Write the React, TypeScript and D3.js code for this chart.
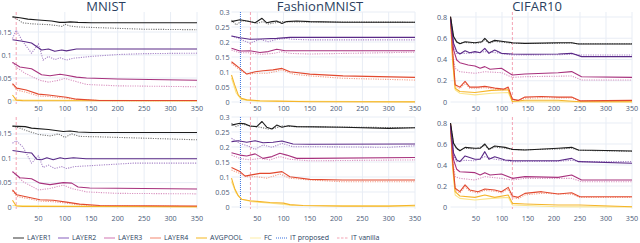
import React from 'react';
import * as d3 from 'd3';

type Pt = [number, number];

// ---------- tick values ----------
const xTicks = [50, 100, 150, 200, 250, 300, 350];
const mnistYTicks = [0, 0.05, 0.1, 0.15];
const fashionYTicks = [0, 0.05, 0.1, 0.15, 0.2, 0.25, 0.3];
const cifarYTicks = [0, 0.2, 0.4, 0.6, 0.8];

// ---------- MNIST, top row ----------
const mnA_L1s: Pt[] = [[1,.183],[15,.181],[30,.178],[50,.176],[75,.174],[90,.171],[100,.171],[110,.172],[125,.171],[150,.170],[350,.170]];
const mnA_L1d: Pt[] = [[1,.183],[10,.178],[20,.170],[35,.168],[50,.167],[70,.166],[85,.164],[95,.162],[100,.167],[110,.163],[125,.161],[150,.160],[200,.158],[250,.156],[350,.155]];
const mnA_L2s: Pt[] = [[1,.133],[20,.130],[37,.126],[56,.111],[69,.113],[81,.108],[94,.111],[103,.109],[122,.113],[150,.113],[350,.113]];
const mnA_L2d: Pt[] = [[1,.136],[8,.154],[20,.130],[37,.104],[50,.124],[59,.089],[69,.097],[81,.090],[91,.094],[103,.089],[116,.093],[150,.097],[200,.101],[250,.103],[350,.104]];
const mnA_L3s: Pt[] = [[1,.084],[15,.074],[37,.070],[56,.057],[72,.055],[91,.058],[103,.056],[122,.052],[141,.050],[200,.048],[350,.045]];
const mnA_L3d: Pt[] = [[1,.084],[10,.072],[25,.060],[53,.045],[69,.041],[88,.045],[100,.049],[113,.045],[141,.036],[200,.033],[350,.031]];
const mnA_L4s: Pt[] = [[1,.038],[9,.028],[27,.024],[50,.015],[69,.013],[84,.011],[103,.008],[122,.004],[166,.001],[350,.001]];
const mnA_L4d: Pt[] = [[1,.036],[9,.024],[27,.019],[50,.011],[69,.010],[84,.008],[103,.006],[122,.003],[166,.001],[350,.0005]];
const mnA_AVG: Pt[] = [[1,.013],[8,.002],[20,.0008],[350,.0005]];
const mnA_FC: Pt[] = [[1,.002],[350,.0002]];

// ---------- MNIST, bottom row ----------
const mnB_L1s: Pt[] = [[1,.166],[25,.165],[37,.162],[69,.159],[97,.155],[110,.156],[125,.154],[150,.153],[350,.153]];
const mnB_L1d: Pt[] = [[1,.166],[15,.162],[27,.157],[50,.149],[72,.146],[88,.150],[100,.143],[113,.150],[128,.145],[166,.144],[229,.142],[350,.138]];
const mnB_L2s: Pt[] = [[1,.116],[27,.112],[37,.111],[47,.098],[56,.097],[66,.101],[78,.097],[91,.101],[100,.099],[116,.101],[140,.099],[350,.099]];
const mnB_L2d: Pt[] = [[1,.131],[8,.136],[21,.123],[37,.090],[50,.105],[59,.081],[69,.086],[81,.079],[94,.083],[103,.079],[119,.083],[166,.086],[229,.090],[350,.090]];
const mnB_L3s: Pt[] = [[1,.0725],[15,.060],[37,.058],[53,.049],[72,.046],[97,.050],[113,.049],[125,.041],[147,.039],[350,.037]];
const mnB_L3d: Pt[] = [[1,.0725],[21,.052],[50,.035],[72,.038],[97,.045],[113,.038],[141,.031],[200,.028],[350,.027]];
const mnB_L4s: Pt[] = [[1,.035],[9,.025],[31,.020],[53,.015],[78,.014],[103,.010],[128,.006],[166,.003],[350,.002]];
const mnB_L4d: Pt[] = [[1,.033],[9,.022],[31,.017],[53,.012],[78,.011],[103,.008],[128,.004],[166,.002],[350,.001]];
const mnB_AVG: Pt[] = [[1,.014],[8,.002],[20,.001],[350,.0008]];
const mnB_FC: Pt[] = [[1,.003],[350,.0003]];

// ---------- FashionMNIST, top row ----------
const faA_L1s: Pt[] = [[1,.268],[17,.274],[30,.270],[46,.264],[59,.279],[68,.264],[78,.268],[87,.270],[97,.262],[106,.268],[125,.270],[150,.268],[213,.266],[350,.266]];
const faA_L1d: Pt[] = [[1,.273],[10,.257],[20,.270],[36,.270],[49,.262],[61,.268],[71,.260],[84,.264],[97,.268],[118,.267],[350,.266]];
const faA_L2s: Pt[] = [[1,.220],[17,.214],[36,.209],[55,.210],[87,.212],[112,.2155],[350,.2155]];
const faA_L2d: Pt[] = [[1,.220],[14,.212],[36,.196],[55,.209],[71,.201],[87,.209],[106,.212],[118,.209],[150,.207],[350,.207]];
const faA_L3s: Pt[] = [[1,.179],[17,.170],[36,.171],[55,.165],[71,.168],[87,.176],[103,.171],[350,.171]];
const faA_L3d: Pt[] = [[1,.173],[17,.164],[36,.164],[58,.159],[80,.162],[97,.168],[112,.162],[150,.160],[250,.163],[350,.166]];
const faA_L4s: Pt[] = [[1,.134],[17,.112],[30,.093],[46,.101],[61,.104],[80,.107],[97,.112],[112,.101],[150,.093],[213,.087],[350,.082]];
const faA_L4d: Pt[] = [[1,.129],[17,.107],[30,.093],[49,.096],[71,.096],[97,.107],[118,.093],[150,.087],[213,.079],[350,.073]];
const faA_AVG: Pt[] = [[1,.090],[7,.057],[14,.023],[20,.012],[30,.007],[55,.004],[87,.003],[150,.001],[350,.0005]];
const faA_FC: Pt[] = [[1,.080],[10,.030],[20,.008],[50,.003],[350,.001]];

// ---------- FashionMNIST, bottom row ----------
const faB_L1s: Pt[] = [[1,.273],[17,.279],[27,.277],[36,.270],[49,.268],[59,.285],[68,.266],[78,.260],[87,.273],[97,.266],[109,.271],[125,.268],[213,.266],[300,.262],[350,.264]];
const faB_L1d: Pt[] = [[1,.279],[10,.268],[20,.277],[36,.270],[55,.266],[71,.260],[84,.263],[97,.270],[118,.268],[350,.264]];
const faB_L2s: Pt[] = [[1,.218],[14,.221],[30,.216],[46,.221],[61,.214],[80,.216],[97,.220],[118,.210],[150,.209],[350,.210]];
const faB_L2d: Pt[] = [[1,.229],[17,.212],[33,.203],[46,.192],[61,.207],[78,.199],[97,.212],[118,.201],[150,.201],[300,.199],[350,.204]];
const faB_L3s: Pt[] = [[1,.181],[17,.173],[30,.170],[46,.177],[61,.162],[78,.168],[93,.179],[106,.173],[125,.162],[150,.162],[350,.165]];
const faB_L3d: Pt[] = [[1,.173],[17,.162],[36,.157],[55,.162],[74,.157],[93,.168],[112,.159],[150,.154],[350,.157]];
const faB_L4s: Pt[] = [[1,.132],[17,.118],[27,.103],[39,.107],[55,.112],[74,.112],[97,.118],[112,.101],[150,.092],[213,.090],[350,.090]];
const faB_L4d: Pt[] = [[1,.123],[17,.112],[30,.101],[49,.101],[68,.096],[93,.110],[112,.096],[150,.090],[213,.084],[350,.084]];
const faB_AVG: Pt[] = [[1,.096],[7,.062],[14,.037],[20,.026],[36,.021],[55,.018],[74,.015],[100,.013],[112,.008],[137,.005],[213,.003],[300,.003],[350,.0057]];
const faB_FC: Pt[] = [[1,.085],[10,.046],[20,.026],[40,.018],[87,.011],[118,.005],[350,.003]];

// ---------- CIFAR10, top row ----------
const ciA_L1s: Pt[] = [[1,.803],[7,.615],[13,.567],[19,.548],[29,.567],[48,.558],[61,.567],[67,.599],[75,.558],[86,.580],[106,.567],[120,.558],[144,.552],[208,.558],[234,.558],[247,.546],[350,.546]];
const ciA_L1d: Pt[] = [[1,.80],[7,.60],[13,.560],[19,.552],[29,.560],[48,.552],[61,.560],[67,.585],[75,.552],[86,.570],[106,.560],[120,.552],[144,.550],[208,.552],[234,.555],[247,.548],[350,.548]];
const ciA_L2s: Pt[] = [[1,.787],[7,.552],[13,.474],[19,.452],[29,.483],[38,.464],[48,.474],[58,.464],[67,.505],[75,.458],[86,.489],[99,.458],[120,.452],[144,.449],[208,.452],[234,.458],[253,.427],[350,.427]];
const ciA_L2d: Pt[] = [[1,.770],[7,.530],[13,.458],[29,.458],[48,.462],[67,.474],[86,.465],[120,.442],[208,.445],[234,.450],[253,.442],[350,.442]];
const ciA_L3s: Pt[] = [[1,.772],[7,.490],[13,.395],[19,.370],[35,.348],[48,.339],[58,.317],[67,.333],[77,.308],[99,.317],[120,.254],[144,.264],[208,.276],[234,.286],[253,.238],[350,.232]];
const ciA_L3d: Pt[] = [[1,.765],[5,.450],[10,.317],[19,.285],[48,.270],[67,.285],[99,.276],[120,.232],[144,.238],[234,.245],[253,.207],[350,.207]];
const ciA_L4s: Pt[] = [[1,.803],[5,.490],[10,.162],[19,.140],[29,.194],[38,.140],[54,.140],[67,.147],[86,.131],[103,.121],[112,.140],[120,.027],[131,.015],[144,.046],[176,.052],[208,.046],[234,.046],[250,.011],[350,.015]];
const ciA_L4d: Pt[] = [[1,.79],[5,.46],[10,.150],[19,.128],[29,.175],[38,.130],[54,.130],[67,.135],[86,.122],[103,.112],[112,.125],[120,.020],[131,.012],[144,.035],[176,.040],[234,.038],[250,.008],[350,.010]];
const ciA_AVG: Pt[] = [[1,.790],[5,.400],[10,.130],[19,.099],[48,.090],[80,.109],[112,.115],[120,.004],[144,.016],[208,.016],[250,.002],[350,.002]];
const ciA_FC: Pt[] = [[1,.772],[5,.380],[10,.115],[19,.083],[48,.067],[80,.083],[112,.090],[120,.002],[350,.001]];

// ---------- CIFAR10, bottom row ----------
const ciB_L1s: Pt[] = [[1,.800],[7,.606],[13,.559],[19,.536],[29,.568],[48,.559],[58,.559],[67,.600],[75,.549],[86,.581],[106,.568],[120,.549],[144,.543],[208,.559],[234,.568],[247,.543],[350,.533]];
const ciB_L1d: Pt[] = [[1,.79],[7,.59],[13,.552],[19,.540],[29,.560],[48,.552],[67,.585],[75,.548],[86,.570],[106,.560],[120,.548],[144,.545],[208,.552],[234,.560],[247,.540],[350,.530]];
const ciB_L2s: Pt[] = [[1,.780],[7,.511],[13,.448],[19,.432],[29,.486],[48,.454],[58,.454],[67,.527],[75,.454],[86,.479],[106,.448],[120,.441],[208,.441],[234,.463],[247,.432],[350,.416]];
const ciB_L2d: Pt[] = [[1,.77],[7,.49],[13,.432],[29,.445],[48,.440],[67,.479],[86,.455],[120,.432],[208,.435],[234,.445],[253,.432],[350,.432]];
const ciB_L3s: Pt[] = [[1,.760],[7,.448],[13,.359],[19,.336],[48,.327],[58,.305],[67,.327],[77,.305],[99,.314],[120,.273],[144,.289],[208,.282],[234,.305],[253,.257],[350,.257]];
const ciB_L3d: Pt[] = [[1,.75],[5,.45],[10,.289],[19,.273],[48,.257],[67,.289],[99,.273],[120,.257],[144,.273],[234,.273],[253,.241],[350,.241]];
const ciB_L4s: Pt[] = [[1,.800],[5,.448],[10,.178],[19,.146],[29,.210],[38,.162],[54,.146],[67,.171],[86,.162],[99,.146],[112,.187],[120,.105],[131,.092],[144,.130],[176,.146],[208,.124],[234,.136],[250,.098],[350,.098]];
const ciB_L4d: Pt[] = [[1,.79],[5,.43],[10,.165],[19,.132],[29,.192],[38,.150],[54,.135],[67,.158],[86,.150],[99,.135],[112,.170],[120,.090],[131,.080],[144,.115],[176,.130],[234,.122],[250,.090],[350,.092]];
const ciB_AVG: Pt[] = [[1,.790],[5,.400],[10,.146],[19,.105],[48,.092],[67,.114],[86,.092],[112,.114],[120,.035],[144,.029],[208,.019],[250,.019],[350,.003]];
const ciB_FC: Pt[] = [[1,.770],[5,.380],[10,.114],[19,.082],[48,.067],[80,.082],[112,.092],[120,.019],[208,.003],[350,.001]];

// ---------- vertical markers (x positions) ----------
const mnistVanilla = [8];
const fashionProposed = [18];
const fashionVanilla = [37];
const cifarVanilla = [120];

// ---------- names & colours ----------
const titles = ['MNIST', 'FashionMNIST', 'CIFAR10'];
const legendNames = ['LAYER1', 'LAYER2', 'LAYER3', 'LAYER4', 'AVGPOOL', 'FC', 'IT proposed', 'IT vanilla'];
const solidColors = ['#1c1c1c', '#5a2a87', '#a8327d', '#e2492f', '#f5b52a', '#fbe58a'];
const dottedColors = ['#7a7a7a', '#a886c8', '#d993c0', '#f3a08a'];
const legendColors = ['#555555', '#9b7bc8', '#d98cbf', '#f59c87', '#f7c445', '#fdf0b5', '#3b73e0', '#f4a3b4'];
const proposedColor = '#3b73e0';
const vanillaColor = '#f4a3b4';

// ---------- layout ----------
const cols = [
  { x0: 12.5, x1: 197, labelX: 11.5, titleX: 106 },
  { x0: 231.5, x1: 415, labelX: 229.5, titleX: 320 },
  { x0: 450.5, x1: 632, labelX: 447, titleX: 537 },
];
const rows = [
  { y0: 12, y1: 104, xLabelY: 111 },
  { y0: 117, y1: 209, xLabelY: 221 },
];

interface PanelDef {
  col: number;
  row: number;
  yDomain: [number, number];
  yTicks: number[];
  solid: Pt[][];
  dotted: Pt[][];
  proposed: number[];
  vanilla: number[];
}

const panels: PanelDef[] = [
  { col: 0, row: 0, yDomain: [-0.0065, 0.1935], yTicks: mnistYTicks,
    solid: [mnA_L1s, mnA_L2s, mnA_L3s, mnA_L4s, mnA_AVG, mnA_FC], dotted: [mnA_L1d, mnA_L2d, mnA_L3d, mnA_L4d],
    proposed: [], vanilla: mnistVanilla },
  { col: 0, row: 1, yDomain: [-0.0041, 0.1848], yTicks: mnistYTicks,
    solid: [mnB_L1s, mnB_L2s, mnB_L3s, mnB_L4s, mnB_AVG, mnB_FC], dotted: [mnB_L1d, mnB_L2d, mnB_L3d, mnB_L4d],
    proposed: [], vanilla: mnistVanilla },
  { col: 1, row: 0, yDomain: [-0.0067, 0.3], yTicks: fashionYTicks,
    solid: [faA_L1s, faA_L2s, faA_L3s, faA_L4s, faA_AVG, faA_FC], dotted: [faA_L1d, faA_L2d, faA_L3d, faA_L4d],
    proposed: fashionProposed, vanilla: fashionVanilla },
  { col: 1, row: 1, yDomain: [-0.0067, 0.3], yTicks: fashionYTicks,
    solid: [faB_L1s, faB_L2s, faB_L3s, faB_L4s, faB_AVG, faB_FC], dotted: [faB_L1d, faB_L2d, faB_L3d, faB_L4d],
    proposed: fashionProposed, vanilla: fashionVanilla },
  { col: 2, row: 0, yDomain: [-0.0188, 0.847], yTicks: cifarYTicks,
    solid: [ciA_L1s, ciA_L2s, ciA_L3s, ciA_L4s, ciA_AVG, ciA_FC], dotted: [ciA_L1d, ciA_L2d, ciA_L3d, ciA_L4d],
    proposed: [], vanilla: cifarVanilla },
  { col: 2, row: 1, yDomain: [-0.019, 0.857], yTicks: cifarYTicks,
    solid: [ciB_L1s, ciB_L2s, ciB_L3s, ciB_L4s, ciB_AVG, ciB_FC], dotted: [ciB_L1d, ciB_L2d, ciB_L3d, ciB_L4d],
    proposed: [], vanilla: cifarVanilla },
];

const FONT = "'Open Sans', 'DejaVu Sans', sans-serif";
const tickColor = '#4b5b78';
const gridColor = '#e8edf5';

function fmt(v: number) {
  return v === 0 ? '0' : String(+v.toFixed(2));
}

function Panel({ p }: { p: PanelDef }) {
  const c = cols[p.col];
  const r = rows[p.row];
  const x = d3.scaleLinear().domain([1, 350]).range([c.x0, c.x1]);
  const y = d3.scaleLinear().domain(p.yDomain).range([r.y1, r.y0]);
  const line = d3.line<Pt>().x(d => x(d[0])).y(d => y(d[1]));
  const order = [5, 4, 3, 2, 1, 0];
  return (
    <g>
      {xTicks.map(t => (
        <line key={'gx' + t} x1={x(t)} x2={x(t)} y1={r.y0} y2={r.y1} stroke={gridColor} strokeWidth={1} />
      ))}
      {p.yTicks.map(t => (
        <line key={'gy' + t} x1={c.x0} x2={c.x1} y1={y(t)} y2={y(t)} stroke={gridColor} strokeWidth={1} />
      ))}
      {p.vanilla.map(v => (
        <line key={'v' + v} x1={x(v)} x2={x(v)} y1={r.y0} y2={r.y1} stroke={vanillaColor} strokeWidth={1} strokeDasharray="3,2" />
      ))}
      {p.proposed.map(v => (
        <line key={'p' + v} x1={x(v)} x2={x(v)} y1={r.y0} y2={r.y1} stroke={proposedColor} strokeWidth={1} strokeDasharray="1,1" />
      ))}
      {[3, 2, 1, 0].map(i => (
        <path key={'d' + i} d={line(p.dotted[i]) || ''} fill="none" stroke={dottedColors[i]} strokeWidth={1.1} strokeDasharray="1.2,1.2" />
      ))}
      {order.map(i => (
        <path key={'s' + i} d={line(p.solid[i]) || ''} fill="none" stroke={solidColors[i]} strokeWidth={1.1} strokeLinejoin="round" />
      ))}
      {p.yTicks.map(t => (
        <text key={'ty' + t} x={c.labelX} y={y(t)} dy="0.35em" textAnchor="end" fontSize={7.2} fill={tickColor} fontFamily={FONT}>{fmt(t)}</text>
      ))}
      {xTicks.map(t => (
        <text key={'tx' + t} x={x(t)} y={r.xLabelY} textAnchor="middle" fontSize={7.2} fill={tickColor} fontFamily={FONT}>{t}</text>
      ))}
      {p.row === 0 && (
        <text x={c.titleX} y={10.5} textAnchor="middle" fontSize={13} fill="#2a3f5f" fontFamily={FONT}>{titles[p.col]}</text>
      )}
    </g>
  );
}

const legendLineX = [13, 58, 104, 150, 196, 250, 276, 337];
const legendTextX = [27, 72, 118, 164, 210, 264, 290, 351];

export default function App() {
  return (
    <svg width={640} height={243} style={{ position: 'absolute', left: 0, top: 0, background: '#fff' }}>
      <rect width={640} height={243} fill="#fff" />
      {panels.map((p, i) => <Panel key={i} p={p} />)}
      <g>
        {legendNames.map((n, i) => (
          <g key={n}>
            <line x1={legendLineX[i]} x2={legendLineX[i] + 11} y1={238} y2={238} stroke={legendColors[i]} strokeWidth={1.2}
              strokeDasharray={i === 6 ? '1,1' : i === 7 ? '2.5,1.5' : undefined} />
            <text x={legendTextX[i]} y={238} dy="0.35em" fontSize={7} fill="#2a3f5f" fontFamily={FONT}>{n}</text>
          </g>
        ))}
      </g>
    </svg>
  );
}
